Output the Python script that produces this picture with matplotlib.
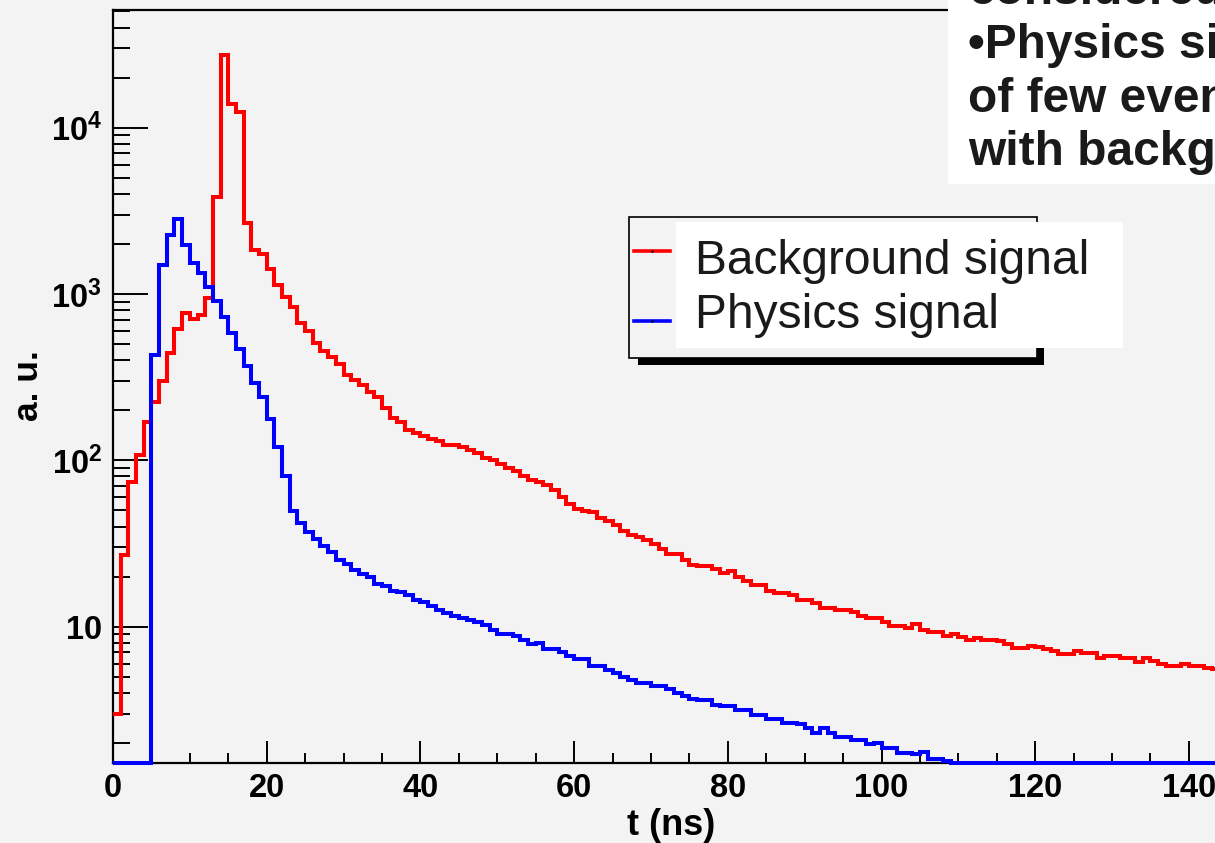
import numpy as np
import matplotlib.pyplot as plt
from matplotlib.patches import Rectangle
from matplotlib.lines import Line2D
from matplotlib.ticker import MultipleLocator, LogLocator, NullFormatter

plt.rcParams['font.family'] = ['Liberation Sans', 'DejaVu Sans']
plt.rcParams['mathtext.fontset'] = 'custom'
plt.rcParams['mathtext.rm'] = 'Liberation Sans:bold'
plt.rcParams['mathtext.bf'] = 'Liberation Sans:bold'
plt.rcParams['mathtext.it'] = 'Liberation Sans:bold'
plt.rcParams['mathtext.default'] = 'bf'

# time spectra, 1 ns bins starting at t = 0
background = [
    3.0, 26.8, 73.6, 107, 169, 224, 298, 441, 617, 770,
    709, 748, 946, 3855, 27500, 13800, 12500, 2690, 1850, 1734,
    1408, 1133, 955, 831, 671, 598, 505, 455, 419, 382,
    325, 306, 283, 258, 241, 207, 180, 170, 153, 146,
    141, 135, 130, 124, 123, 120, 116, 111, 104, 100,
    95.5, 90.3, 85.9, 80.4, 76.5, 74.0, 70.7, 66.5, 60.1, 54.8,
    51.2, 49.5, 48.9, 45.2, 43.1, 40.6, 37.8, 35.8, 34.8, 33.3,
    31.5, 29.4, 27.4, 27.2, 25.2, 23.6, 23.3, 23.3, 22.3, 20.9,
    21.5, 19.8, 18.7, 17.7, 17.7, 16.5, 15.9, 15.9, 15.4, 14.5,
    14.5, 13.8, 13.0, 13.0, 12.6, 12.6, 12.2, 11.6, 11.3, 11.3,
    10.6, 10.1, 10.1, 9.8, 10.4, 9.55, 9.25, 9.25, 8.8, 9.0,
    8.7, 8.3, 8.55, 8.3, 8.3, 8.15, 7.87, 7.44, 7.44, 7.69,
    7.5, 7.34, 7.1, 6.85, 6.85, 7.1, 6.9, 6.9, 6.47, 6.68,
    6.68, 6.47, 6.47, 6.1, 6.47, 6.18, 5.96, 5.82, 5.82, 5.96,
    5.82, 5.82, 5.64, 5.6,
]
physics = [
    0, 0, 0, 0, 0, 430, 1500, 2265, 2820, 1973,
    1530, 1344, 1107, 912, 730, 580, 464, 368, 290, 239,
    178, 120, 80, 49.5, 42, 37.3, 33.7, 30.5, 28, 25,
    23.9, 22, 20.8, 19.8, 18.1, 17.5, 16.5, 16.1, 15.4, 14.5,
    14.0, 13.4, 12.6, 12.1, 11.6, 11.3, 11.0, 10.6, 10.2, 9.6,
    9.0, 9.0, 8.8, 8.3, 7.9, 8.0, 7.3, 7.3, 7.0, 6.7,
    6.4, 6.4, 5.8, 5.8, 5.5, 5.3, 5.0, 4.8, 4.6, 4.6,
    4.4, 4.4, 4.2, 4.0, 3.85, 3.67, 3.61, 3.61, 3.39, 3.34,
    3.34, 3.15, 3.15, 2.95, 2.95, 2.78, 2.78, 2.65, 2.65, 2.6,
    2.45, 2.31, 2.45, 2.31, 2.17, 2.17, 2.08, 2.08, 1.96, 2.0,
    1.86, 1.86, 1.75, 1.75, 1.71, 1.77, 1.60, 1.60, 1.55,
] + [0] * 35
labels = ['Background signal', 'Physics signal']
colors = ['#ff0000', '#0000ff']
yticks = [10, 100, 1000, 10000]
yticklabels = ['10', '10$^{2}$', '10$^{3}$', '10$^{4}$']
note_lines = ['considered', '\u2022Physics signal consists',
              'of few events compared', 'with background']

W, H = 1215, 843
bg = '#f3f3f3'
ylo, yhi = 1.509, 51000


def fx(x):
    return x / W


def fy(y):
    return 1 - y / H


fig = plt.figure(figsize=(W / 100, H / 100), dpi=100, facecolor=bg)
ax = fig.add_axes([fx(113), fy(763.3), 150 * 7.685 / W, 753.3 / H], facecolor=bg)

edges = np.arange(len(background) + 1)
for vals, c in [(background, colors[0]), (physics, colors[1])]:
    ax.stairs(np.clip(vals, ylo, None), edges, color=c, lw=2.9,
              baseline=None, zorder=3, clip_on=False)

ax.set_yscale('log')
ax.set_ylim(ylo, yhi)
ax.set_xlim(0, 150)

ax.set_yticks(yticks, yticklabels)
ax.yaxis.set_minor_locator(LogLocator(base=10, subs=np.arange(2, 10), numticks=20))
ax.yaxis.set_minor_formatter(NullFormatter())
ax.xaxis.set_major_locator(MultipleLocator(20))
ax.xaxis.set_minor_locator(MultipleLocator(5))

ax.tick_params(axis='both', which='both', direction='in', width=1.4, colors='black',
               labelsize=23.5)
ax.tick_params(axis='y', which='major', length=25, pad=8)
ax.tick_params(axis='y', which='minor', length=12)
ax.tick_params(axis='x', which='major', length=15.5, pad=7)
ax.tick_params(axis='x', which='minor', length=7.5)
for lab in ax.get_xticklabels() + ax.get_yticklabels():
    lab.set_fontweight('bold')

for s in ['left', 'bottom', 'top']:
    ax.spines[s].set_linewidth(1.6)
ax.spines['right'].set_visible(False)

ax.set_xlabel('t (ns)', fontsize=26, fontweight='bold')
ax.xaxis.set_label_coords((671 - 113) / (150 * 7.685), -(808 - 763.3) / 753.3)
ax.set_ylabel('a. u.', fontsize=25.5, fontweight='bold')
ax.yaxis.set_label_coords((45 - 113) / (150 * 7.685), 0.502)

# legend box with shadow, and the white text panel over it
fig.patches.append(Rectangle((fx(638), fy(365)), fx(1044) - fx(638), (365 - 224) / H,
                             transform=fig.transFigure, facecolor='black', edgecolor='none', zorder=1))
fig.patches.append(Rectangle((fx(629), fy(358)), fx(1037) - fx(629), (358 - 217) / H,
                             transform=fig.transFigure, facecolor=bg, edgecolor='black',
                             lw=1.2, zorder=2))
fig.patches.append(Rectangle((fx(676), fy(347.5)), fx(1123) - fx(676), (347.5 - 221.5) / H,
                             transform=fig.transFigure, facecolor='white', edgecolor='none', zorder=3))
for yl, yt, lab, c in [(251, 274, labels[0], colors[0]), (321, 328, labels[1], colors[1])]:
    fig.lines.append(Line2D([fx(634), fx(670)], [fy(yl), fy(yl)], transform=fig.transFigure,
                            color=c, lw=2.6, zorder=4))
    fig.lines.append(Line2D([fx(652)], [fy(yl)], transform=fig.transFigure, color='black',
                            marker='.', markersize=1.5, lw=0, zorder=5))
    fig.text(fx(695), fy(yt), lab, fontsize=34.5, color='#1a1a1a', va='baseline', zorder=5)

# slide text panel at top right
fig.patches.append(Rectangle((fx(948), fy(184)), 1 - fx(948) + 0.01, 184 / H + 0.01,
                             transform=fig.transFigure, facecolor='white', edgecolor='none', zorder=3))
for i, line in enumerate(note_lines):
    fig.text(fx(968), fy(4.5 + 53.5 * i), line, fontsize=34.5, fontweight='bold',
             color='#1a1a1a', va='baseline', zorder=5)

fig.savefig('out.png', dpi=100, facecolor=bg)
